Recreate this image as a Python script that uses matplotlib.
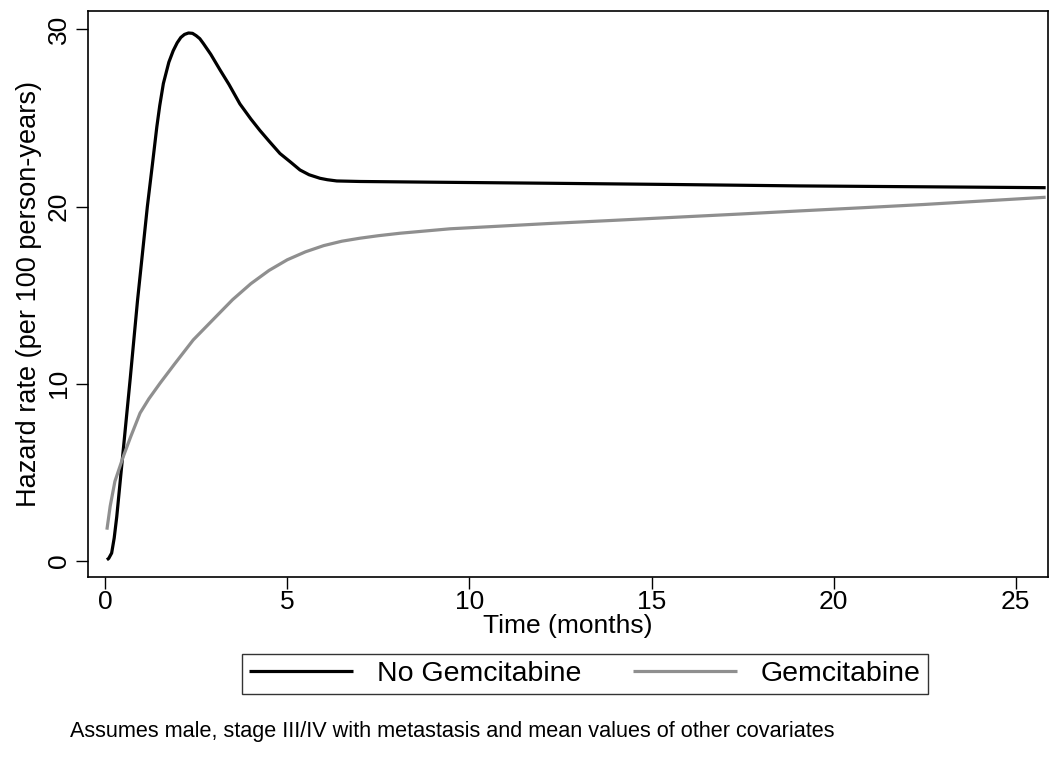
import matplotlib
matplotlib.use("Agg")
import matplotlib.pyplot as plt

# Predicted hazard (per 100 person-years) over follow-up time in months
t_nogem = [0.05, 0.10, 0.18, 0.25, 0.32, 0.50, 0.69, 0.89, 1.16, 1.30, 1.42,
           1.50, 1.60, 1.75, 1.87, 1.98, 2.08, 2.18, 2.29, 2.40, 2.50, 2.60,
           2.70, 2.90, 3.16, 3.40, 3.70, 4.00, 4.25, 4.50, 4.80, 5.10, 5.35,
           5.60, 5.90, 6.10, 6.36, 7.0, 9.0, 12.2, 15.6, 19.07, 22.5, 25.82]
h_nogem = [0.07, 0.15, 0.45, 1.3, 2.5, 6.3, 10.3, 14.7, 20.0, 22.4, 24.5,
           25.7, 26.95, 28.15, 28.8, 29.25, 29.55, 29.72, 29.8, 29.78, 29.65, 29.48,
           29.2, 28.6, 27.7, 26.9, 25.8, 24.95, 24.3, 23.7, 23.0, 22.5, 22.07,
           21.8, 21.6, 21.52, 21.45, 21.42, 21.38, 21.32, 21.25, 21.17, 21.12, 21.07]

t_gem = [0.05, 0.14, 0.27, 0.50, 0.70, 0.96, 1.20, 1.51, 1.90, 2.42, 3.00,
         3.50, 4.00, 4.50, 5.00, 5.50, 6.00, 6.50, 7.00, 7.50, 8.10, 9.47,
         10.84, 12.2, 13.9, 15.64, 17.4, 19.07, 20.8, 22.46, 24.1, 25.82]
h_gem = [1.77, 3.1, 4.5, 5.9, 7.0, 8.35, 9.15, 10.04, 11.1, 12.48, 13.7,
         14.75, 15.65, 16.4, 17.0, 17.45, 17.8, 18.05, 18.22, 18.36, 18.5, 18.75,
         18.9, 19.05, 19.22, 19.4, 19.58, 19.76, 19.94, 20.12, 20.32, 20.53]

labels = ["No Gemcitabine", "Gemcitabine"]
colors = ["black", "#8f8f8f"]
x_ticks = [0, 5, 10, 15, 20, 25]
y_ticks = [0, 10, 20, 30]
note = "Assumes male, stage III/IV with metastasis and mean values of other covariates"

plt.rcParams["font.family"] = ["Liberation Sans", "DejaVu Sans"]

fig = plt.figure(figsize=(10.51, 7.6), dpi=100)
ax = fig.add_axes([0.0837, 0.2408, 0.9133, 0.7447])

l1, = ax.plot(t_nogem, h_nogem, color=colors[0], lw=2.3,
              solid_capstyle="butt", solid_joinstyle="round")
l2, = ax.plot(t_gem, h_gem, color=colors[1], lw=2.3,
              solid_capstyle="butt", solid_joinstyle="round")

ax.set_xlim(-0.47, 25.88)
ax.set_ylim(-0.90, 31.04)
ax.set_xticks(x_ticks)
ax.set_yticks(y_ticks)
ax.tick_params(axis="both", direction="out", length=8.5, width=1.0,
               labelsize=19, pad=1)
ax.tick_params(axis="y", pad=4)
plt.setp(ax.get_yticklabels(), rotation=90, va="center")
for s in ax.spines.values():
    s.set_linewidth(1.2)

ax.set_xlabel("Time (months)", fontsize=19, labelpad=0)
ax.set_ylabel("Hazard rate (per 100 person-years)", fontsize=19.5, labelpad=3)

leg = fig.legend([l1, l2], labels, loc="center", ncol=2,
                 bbox_to_anchor=(0.5565, 0.113), fontsize=20.5,
                 handlelength=3.65, handletextpad=0.85, columnspacing=1.8,
                 frameon=True, fancybox=False, borderpad=0.25)
leg.get_frame().set_edgecolor("black")
leg.get_frame().set_linewidth(1.0)

fig.text(0.0666, 0.038, note, fontsize=15.6, ha="left", va="center")

fig.savefig("out.png", dpi=100)
